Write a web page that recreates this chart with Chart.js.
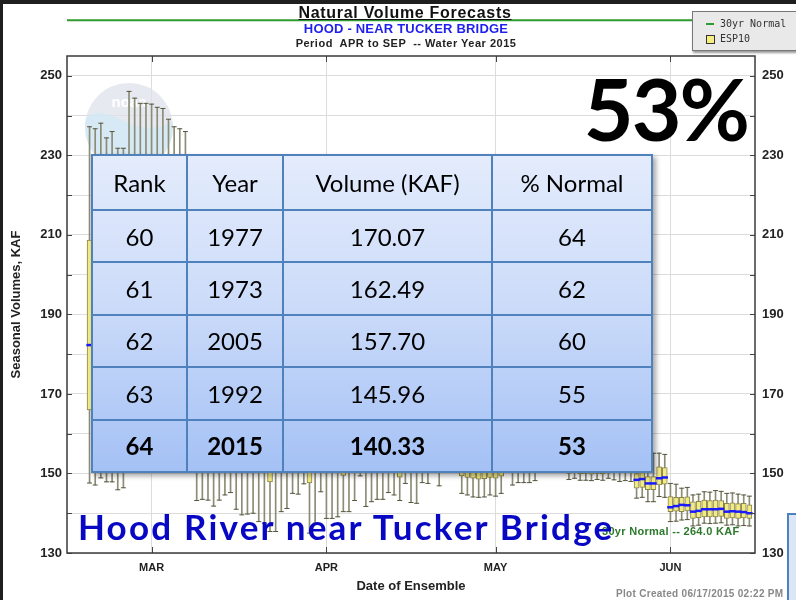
<!DOCTYPE html>
<html>
<head>
<meta charset="utf-8">
<script src="https://cdn.jsdelivr.net/npm/chart.js@4.4.1/dist/chart.umd.min.js"></script>
<style>
  html, body { margin: 0; padding: 0; }
  body { width: 796px; height: 600px; position: relative; overflow: hidden; background: #fff;
         font-family: 'Liberation Sans', Arial, sans-serif; }
  #chart { position: absolute; left: 0; top: 0; }
  .abs { position: absolute; white-space: pre; line-height: 1; }
  .center { transform: translateX(-50%); }
  #t1 { left: 405px; top: 5px; font-weight: bold; font-size: 16px; letter-spacing: .7px; color: #111; text-decoration: underline; }
  #t2 { left: 406px; top: 21.5px; font-weight: bold; font-size: 13px; letter-spacing: .2px; color: #1f1fef; }
  #t3 { left: 406px; top: 38px; font-weight: bold; font-size: 11px; letter-spacing: .5px; color: #222; }
  #legend { position: absolute; left: 692px; top: 11px; width: 110px; height: 38px; background: #e9e9e9;
            border: 1px solid #777; box-shadow: 1px 2px 2px rgba(0,0,0,.4);
            font-family: 'DejaVu Sans Mono', 'Liberation Mono', monospace; font-size: 10px; color: #333; }
  #legend .sw-line { position: absolute; left: 13px; top: 11px; width: 8px; height: 2px; background: #2e9b2e; }
  #legend .sw-box { position: absolute; left: 13px; top: 23px; width: 7px; height: 7px; background: #f5ee80; border: 1px solid #333; }
  #legend .lab { position: absolute; left: 27px; line-height: 1; }
  #pct { right: 48px; top: 65px; font-family: Lato, sans-serif; font-weight: 700; font-size: 86px; color: #000; letter-spacing: -2px; }
  #rank { position: absolute; left: 91px; top: 154px; border-collapse: collapse;
          background: linear-gradient(to bottom, #e4ecfc 0%, #cddcf9 45%, #a4c1f5 100%);
          box-shadow: 3px 3px 5px rgba(0,0,0,.35);
          font-family: Lato, sans-serif; font-size: 24px; color: #000; }
  #rank th, #rank td { border: 2px solid #4f81bd; text-align: center; padding: 0; font-weight: normal; }
  #rank th { height: 53px; }
  #rank td { height: 50.4px; }
  #rank tr.last td { font-weight: bold; }
  #site { left: 78px; top: 509px; font-family: Lato, sans-serif; font-weight: 700; font-size: 35px; letter-spacing: 2.2px; color: #0808c4; }
  #normtxt { left: 602px; top: 526px; font-weight: bold; font-size: 11px; letter-spacing: .3px; color: #2d7a2d; }
  #created { left: 616px; top: 589px; font-weight: bold; font-size: 10px; letter-spacing: .3px; color: #888; }
  #corner { position: absolute; left: 787px; top: 513px; width: 20px; height: 100px; background: #dce6f7;
            border-left: 2px solid #4f81bd; border-top: 2px solid #4f81bd; }
  .dark { position: absolute; background: #1f1f1f; }
</style>
</head>
<body>
<canvas id="chart" width="796" height="600"></canvas>

<div class="abs center" id="t1">Natural Volume Forecasts</div>
<div class="abs center" id="t2">HOOD - NEAR TUCKER BRIDGE</div>
<div class="abs center" id="t3">Period  APR to SEP  -- Water Year 2015</div>

<div id="legend">
  <div class="sw-line"></div><div class="lab" style="top:7px">30yr Normal</div>
  <div class="sw-box"></div><div class="lab" style="top:22px">ESP10</div>
</div>

<div class="abs" id="pct">53%</div>
<div class="abs" id="normtxt">30yr Normal -- 264.0 KAF</div>
<table id="rank"></table>
<div class="abs" id="site">Hood River near Tucker Bridge</div>
<div class="abs" id="created">Plot Created 06/17/2015 02:22 PM</div>
<div id="corner"></div>
<div class="dark" style="left:0;top:0;width:796px;height:4px"></div>
<div class="dark" style="left:0;top:0;width:3px;height:600px"></div>

<script>
// day offsets from Mar 1 (water year 2015 ensemble dates)
const days = [
  -11, -10, -9, -8, -7, -6, -5, -4, -3, -2,
  -1, 0, 1, 2, 3, 4, 5, 6, 7, 8,
  9, 10, 11, 12, 13, 14, 15, 16, 17, 18,
  19, 20, 21, 22, 23, 24, 25, 26, 27, 28,
  29, 30, 31, 32, 33, 34, 35, 36, 37, 38,
  39, 40, 41, 42, 43, 44, 45, 46, 47, 48,
  49, 50, 51, 52, 53, 54, 55, 56, 57, 58,
  59, 60, 61, 62, 63, 64, 65, 66, 67, 68,
  69, 70, 71, 72, 73, 74, 75, 76, 77, 78,
  79, 80, 81, 82, 83, 84, 85, 86, 87, 88,
  89, 90, 91, 92, 93, 94, 95, 96, 97, 98,
  99, 100, 101, 102, 103, 104, 105, 106
]

const whiskerLow = [
  147.6, 147.1, 148.9, 147.9, 147.9, 145.9, 146.4, 151.5, 152.0, 151.8,
  152.4, 152.2, 151.6, 151.9, 152.3, 151.4, 151.0, 150.9, 151.2, 143.2,
  143.5, 143.3, 141.8, 143.3, 144.6, 145.2, 141.0, 139.6, 139.8, 140.0,
  137.9, 137.5, 135.4, 135.4, 140.4, 141.2, 145.0, 144.8, 147.4, 135.0,
  137.5, 145.4, 138.7, 138.7, 139.1, 140.4, 140.4, 143.2, 149.4, 141.7,
  142.9, 143.5, 143.5, 145.2, 144.6, 143.2, 147.5, 142.7, 142.5, 147.7,
  147.5, 151.0, 146.9, 151.2, 151.5, 151.0, 145.0, 144.6, 144.1, 144.0,
  144.1, 144.6, 144.3, 145.0, 151.0, 147.1, 147.7, 147.7, 147.7, 148.2,
  151.2, 151.4, 151.0, 151.3, 151.1, 148.5, 148.8, 148.3, 148.3, 148.2,
  148.5, 148.3, 148.8, 148.4, 148.0, 148.2, 148.0, 143.8, 144.0, 142.9,
  142.9, 144.2, 144.0, 137.9, 138.0, 138.3, 138.4, 136.8, 137.0, 137.5,
  137.4, 137.5, 137.6, 137.0, 137.1, 136.8, 136.9, 136.8
]

const boxLow = [
  166.0, 165.4, 166.5, 164.8, 165.2, 163.6, 163.2, 169.0, 168.2, 167.5,
  167.4, 167.0, 166.4, 166.0, 165.0, 164.1, 163.6, 163.1, 159.8, 158.9,
  158.5, 157.8, 157.2, 156.7, 156.4, 156.0, 155.2, 154.5, 154.2, 153.6,
  153.0, 152.2, 147.9, 151.2, 152.0, 152.4, 153.0, 152.8, 153.5, 147.6,
  151.6, 152.5, 151.2, 151.0, 151.0, 149.5, 151.0, 151.3, 151.5, 151.0,
  151.2, 151.0, 151.0, 151.5, 151.1, 149.1, 151.6, 151.0, 151.0, 151.8,
  151.6, 152.4, 151.3, 152.6, 152.8, 152.3, 149.4, 149.0, 148.8, 148.6,
  148.7, 149.0, 148.8, 149.3, 152.2, 151.4, 151.6, 151.5, 151.5, 151.7,
  152.4, 152.6, 152.2, 152.5, 152.3, 150.0, 150.2, 149.9, 150.0, 149.8,
  150.0, 149.9, 150.1, 150.8, 150.6, 150.7, 151.0, 146.3, 146.5, 145.9,
  145.9, 147.1, 147.3, 140.4, 140.5, 140.4, 140.6, 138.7, 138.9, 139.1,
  139.1, 139.1, 139.2, 138.7, 138.8, 138.7, 138.8, 138.7
]

const medianVal = [
  182.3, 181.5, 182.8, 180.6, 181.2, 179.4, 179.0, 186.5, 185.4, 184.6,
  184.5, 184.0, 183.3, 182.8, 181.4, 180.2, 179.5, 178.9, 174.0, 172.8,
  172.0, 171.0, 170.2, 169.5, 169.0, 168.4, 167.0, 166.0, 165.6, 164.8,
  164.0, 163.0, 160.2, 160.0, 161.5, 162.0, 163.0, 162.6, 163.5, 159.8,
  160.4, 161.4, 159.5, 159.0, 158.8, 158.2, 158.0, 158.4, 159.2, 157.2,
  157.0, 156.6, 156.2, 156.6, 156.0, 155.4, 156.2, 155.0, 154.7, 155.4,
  155.0, 155.6, 154.6, 155.8, 156.0, 155.6, 153.6, 153.2, 153.0, 152.8,
  152.7, 152.9, 152.6, 152.8, 155.0, 154.4, 154.6, 154.5, 154.4, 154.6,
  155.0, 155.2, 154.8, 155.0, 154.9, 153.4, 153.5, 153.2, 153.1, 153.0,
  152.8, 152.6, 152.4, 152.0, 151.8, 151.6, 151.4, 148.4, 148.6, 147.5,
  147.5, 148.8, 149.0, 141.5, 141.8, 142.1, 142.0, 140.4, 140.6, 141.0,
  141.0, 141.0, 141.1, 140.4, 140.5, 140.4, 140.3, 140.0
]

const boxHigh = [
  208.7, 207.5, 209.0, 206.2, 207.0, 204.5, 204.0, 214.0, 212.5, 211.0,
  211.2, 210.6, 209.8, 209.0, 207.2, 205.6, 204.8, 204.0, 197.5, 196.0,
  195.2, 194.0, 193.1, 192.0, 191.4, 190.5, 189.0, 187.6, 187.0, 186.0,
  185.2, 184.0, 181.0, 180.6, 182.0, 182.5, 183.4, 183.0, 184.2, 179.5,
  180.4, 181.6, 179.0, 178.4, 178.0, 177.2, 176.8, 177.0, 178.0, 175.4,
  175.0, 174.6, 174.0, 174.4, 173.6, 172.8, 174.0, 172.0, 171.6, 172.6,
  172.0, 171.0, 170.0, 169.6, 169.0, 168.4, 166.5, 166.0, 165.5, 165.0,
  164.8, 164.4, 164.0, 163.6, 162.5, 161.6, 161.2, 160.8, 160.4, 160.0,
  159.6, 159.2, 158.8, 158.5, 158.2, 156.6, 156.2, 156.0, 155.6, 155.3,
  155.0, 154.8, 154.4, 153.8, 153.4, 153.0, 152.6, 150.0, 150.2, 149.2,
  149.2, 151.7, 151.5, 144.2, 144.0, 144.0, 144.1, 142.9, 143.0, 143.3,
  143.2, 143.3, 143.2, 142.5, 142.6, 142.4, 142.5, 142.1
]

const whiskerHigh = [
  237.2, 236.7, 238.1, 234.4, 236.0, 231.8, 231.8, 246.1, 244.4, 243.1,
  243.1, 242.9, 242.1, 241.8, 239.1, 237.2, 236.7, 236.0, 226.5, 224.8,
  223.0, 221.5, 220.8, 219.0, 218.2, 217.5, 215.0, 213.2, 212.6, 211.0,
  210.2, 209.0, 206.0, 205.4, 206.8, 207.2, 208.0, 207.5, 208.4, 202.0,
  203.2, 205.0, 201.8, 201.0, 200.6, 200.0, 199.4, 199.8, 201.2, 197.6,
  197.0, 196.4, 195.6, 196.0, 195.2, 194.4, 195.8, 193.2, 192.6, 194.0,
  193.4, 192.0, 190.6, 190.0, 189.4, 188.6, 186.0, 185.4, 184.8, 184.2,
  184.0, 183.6, 183.0, 182.2, 180.0, 178.6, 178.0, 177.4, 176.8, 176.2,
  175.6, 175.0, 174.2, 173.8, 173.2, 170.0, 169.4, 168.8, 168.2, 167.6,
  167.0, 166.4, 165.8, 164.0, 163.2, 162.4, 161.0, 153.2, 153.6, 155.0,
  155.1, 155.1, 154.8, 147.5, 147.3, 146.3, 146.5, 144.6, 144.8, 145.4,
  145.3, 145.7, 145.5, 145.0, 145.1, 144.8, 144.6, 144.3
]

const normalVolume = 264.0
const xRange = [-15, 107]
const monthTicks = [0, 31, 61, 92]
const monthLabels = ['MAR', 'APR', 'MAY', 'JUN']
const yTicks = [130, 140, 150, 160, 170, 180, 190, 200, 210, 220, 230, 240, 250]
const yLabels = [130, 150, 170, 190, 210, 230, 250]

const tableHead = ['Rank', 'Year', 'Volume (KAF)', '% Normal']
const tableRank = [60, 61, 62, 63, 64]
const tableYear = [1977, 1973, 2005, 1992, 2015]
const tableVolume = ['170.07', '162.49', '157.70', '145.96', '140.33']
const tablePct = [64, 62, 60, 55, 53]

// ranking table overlay
const colWidths = [95, 96, 209, 160]
const table = document.getElementById('rank')
let html = '<tr>' + tableHead.map((h, i) => `<th style="width:${colWidths[i] - 2}px">${h}</th>`).join('') + '</tr>'
tableRank.forEach((r, i) => {
  const cls = i === tableRank.length - 1 ? ' class="last"' : ''
  html += `<tr${cls}><td>${r}</td><td>${tableYear[i]}</td><td>${tableVolume[i]}</td><td>${tablePct[i]}</td></tr>`
})
table.innerHTML = html

const sans = "'Liberation Sans', Arial, sans-serif"
const gridColor = '#dcdcdc'

const whiskerData = days.map((d, i) => ({ x: d, y: [whiskerLow[i], whiskerHigh[i]] }))
const boxData = days.map((d, i) => ({ x: d, y: [boxLow[i], boxHigh[i]] }))
const medianData = days.map((d, i) => ({ x: d, y: medianVal[i] }))
const capHighData = days.map((d, i) => ({ x: d, y: whiskerHigh[i] }))
const capLowData = days.map((d, i) => ({ x: d, y: whiskerLow[i] }))

// faint noaa watermark behind the boxes
const noaaMark = {
  id: 'noaaMark',
  beforeDatasetsDraw(chart) {
    const { ctx } = chart
    const cx = 129, cy = 127, r = 44
    ctx.save()
    ctx.globalAlpha = 0.75
    ctx.beginPath()
    ctx.arc(cx, cy, r, 0, Math.PI * 2)
    ctx.clip()
    ctx.fillStyle = '#dde1eb'
    ctx.fillRect(cx - r, cy - r, 2 * r, 2 * r)
    ctx.fillStyle = '#d0eaf6'
    ctx.beginPath()
    ctx.moveTo(cx - r, cy - 8)
    ctx.bezierCurveTo(cx - 20, cy - 30, cx + 5, cy + 18, cx + r, cy - 6)
    ctx.lineTo(cx + r, cy + r)
    ctx.lineTo(cx - r, cy + r)
    ctx.closePath()
    ctx.fill()
    ctx.globalAlpha = 1
    ctx.fillStyle = '#ffffff'
    ctx.font = 'bold 15px ' + sans
    ctx.textAlign = 'center'
    ctx.fillText('noaa', cx, cy - 20)
    ctx.restore()
  }
}

// plot frame with inward tick marks
const frameTicks = {
  id: 'frameTicks',
  afterDatasetsDraw(chart) {
    const { ctx, chartArea: a, scales } = chart
    ctx.save()
    ctx.strokeStyle = '#444'
    ctx.lineWidth = 1
    ctx.beginPath()
    yTicks.forEach((v) => {
      const y = Math.round(scales.y.getPixelForValue(v)) + 0.5
      ctx.moveTo(a.left, y); ctx.lineTo(a.left + 5, y)
      ctx.moveTo(a.right - 5, y); ctx.lineTo(a.right, y)
    })
    monthTicks.forEach((v) => {
      const x = Math.round(scales.x.getPixelForValue(v)) + 0.5
      ctx.moveTo(x, a.top); ctx.lineTo(x, a.top + 6)
      ctx.moveTo(x, a.bottom - 6); ctx.lineTo(x, a.bottom)
    })
    ctx.stroke()
    ctx.lineWidth = 1.5
    ctx.strokeStyle = '#3a3a3a'
    ctx.strokeRect(a.left, a.top, a.right - a.left, a.bottom - a.top)
    ctx.restore()
  }
}

const yTickOpts = (pad) => ({
  autoSkip: false,
  padding: pad,
  color: '#222',
  font: { family: sans, weight: 'bold', size: 13 },
  callback: (v) => (yLabels.includes(v) ? String(v) : ''),
})

new Chart(document.getElementById('chart'), {
  type: 'bar',
  data: {
    datasets: [
      {
        label: '30yr Normal',
        type: 'line',
        data: [{ x: xRange[0], y: normalVolume }, { x: xRange[1], y: normalVolume }],
        borderColor: '#2e9b2e',
        borderWidth: 2,
        pointRadius: 0,
        clip: false,
        order: 6,
      },
      {
        label: 'whisker',
        data: whiskerData,
        backgroundColor: '#8c8c76',
        barThickness: 1,
        grouped: false,
        order: 5,
      },
      {
        label: 'cap high',
        type: 'line',
        data: capHighData,
        showLine: false,
        pointStyle: 'line',
        pointRadius: 2.5,
        pointBorderColor: '#56563f',
        pointBorderWidth: 1,
        order: 4,
      },
      {
        label: 'cap low',
        type: 'line',
        data: capLowData,
        showLine: false,
        pointStyle: 'line',
        pointRadius: 2.5,
        pointBorderColor: '#56563f',
        pointBorderWidth: 1,
        order: 4,
      },
      {
        label: 'ESP10',
        data: boxData,
        backgroundColor: '#f2ea86',
        borderColor: '#8a8548',
        borderWidth: 1,
        borderSkipped: false,
        barThickness: 5,
        grouped: false,
        order: 2,
      },
      {
        label: 'median',
        type: 'line',
        data: medianData,
        showLine: false,
        pointStyle: 'line',
        pointRadius: 3.2,
        pointBorderColor: '#1a1aff',
        pointBorderWidth: 2.5,
        order: 1,
      },
    ],
  },
  options: {
    responsive: false,
    animation: false,
    devicePixelRatio: 1,
    events: [],
    layout: { padding: { top: 56, left: 0, right: 0, bottom: 0 } },
    plugins: { legend: { display: false }, tooltip: { enabled: false } },
    scales: {
      x: {
        type: 'linear',
        min: xRange[0],
        max: xRange[1],
        offset: false,
        grid: { color: gridColor, drawTicks: false, offset: false },
        border: { display: false },
        afterBuildTicks: (s) => { s.ticks = monthTicks.map((v) => ({ value: v })) },
        afterFit: (s) => { s.height = 47 },
        ticks: {
          autoSkip: false,
          maxRotation: 0,
          padding: 8,
          color: '#222',
          font: { family: sans, weight: 'bold', size: 11 },
          callback: (v) => monthLabels[monthTicks.indexOf(v)],
        },
        title: {
          display: true,
          text: 'Date of Ensemble',
          color: '#222',
          font: { family: sans, weight: 'bold', size: 13 },
          padding: { top: 0, bottom: 6 },
        },
      },
      y: {
        type: 'linear',
        position: 'left',
        min: 130,
        max: 255,
        grid: { color: gridColor, drawTicks: false },
        border: { display: false },
        afterBuildTicks: (s) => { s.ticks = yTicks.map((v) => ({ value: v })) },
        afterFit: (s) => { s.width = 67 },
        ticks: yTickOpts(5),
        title: {
          display: true,
          text: 'Seasonal Volumes, KAF',
          color: '#222',
          font: { family: sans, weight: 'bold', size: 13 },
          padding: { top: 9, bottom: 0 },
        },
      },
      y2: {
        type: 'linear',
        position: 'right',
        min: 130,
        max: 255,
        grid: { drawOnChartArea: false, drawTicks: false },
        border: { display: false },
        afterBuildTicks: (s) => { s.ticks = yTicks.map((v) => ({ value: v })) },
        afterFit: (s) => { s.width = 41 },
        ticks: yTickOpts(7),
      },
    },
  },
  plugins: [noaaMark, frameTicks],
})
</script>
</body>
</html>
